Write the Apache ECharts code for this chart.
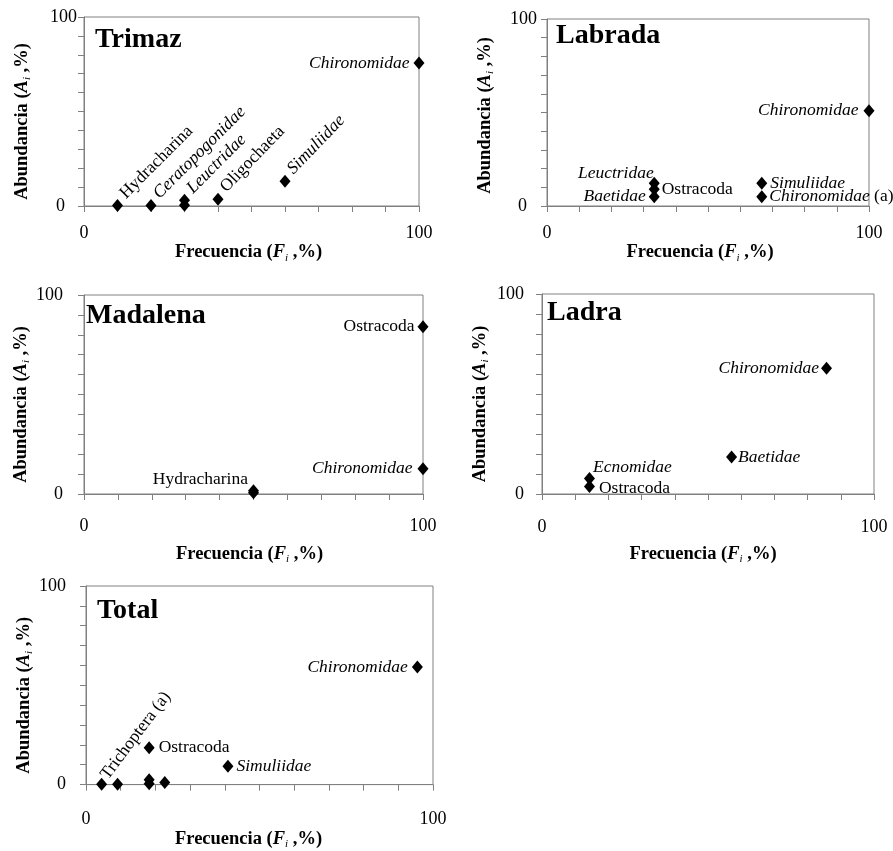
<!DOCTYPE html>
<html><head><meta charset="utf-8">
<script src="https://cdn.jsdelivr.net/npm/echarts/dist/echarts.min.js"></script>
<style>html,body{margin:0;padding:0;background:#fff}#c{width:893px;height:851px}</style>
</head><body><div id="c"></div>
<script>
// ---------- data ----------
const panelNames = ['Trimaz', 'Labrada', 'Madalena', 'Ladra', 'Total'];
const xTickShown = [0, 100];
const yTickShown = [0, 100];

const trimazF = [10, 20, 30, 30, 40, 60, 100];
const trimazA = [0.3, 0.3, 0.4, 3.0, 3.6, 13.1, 75.6];
const trimazTaxa = ['Hydracharina', 'Ceratopogonidae', '', 'Leuctridae', 'Oligochaeta', 'Simuliidae', 'Chironomidae'];
const trimazItalic = [false, true, false, true, false, true, true];

const labradaF = [33.3, 33.3, 33.3, 66.7, 66.7, 100];
const labradaA = [12.1, 8.9, 5.0, 12.1, 5.0, 50.9];
const labradaTaxa = ['Leuctridae', 'Ostracoda', 'Baetidae', 'Simuliidae', 'Chironomidae (a)', 'Chironomidae'];
const labradaItalic = [true, false, true, true, true, true];

const madalenaF = [100, 100, 50, 50];
const madalenaA = [84.1, 12.7, 1.6, 0.6];
const madalenaTaxa = ['Ostracoda', 'Chironomidae', 'Hydracharina', ''];
const madalenaItalic = [false, true, false, false];

const ladraF = [85.7, 57.1, 14.3, 14.3];
const ladraA = [62.9, 18.5, 7.8, 3.8];
const ladraTaxa = ['Chironomidae', 'Baetidae', 'Ecnomidae', 'Ostracoda'];
const ladraItalic = [true, true, true, false];

const totalF = [95.5, 18.2, 40.9, 4.5, 9.1, 18.2, 18.2, 22.7];
const totalA = [59.2, 18.5, 9.3, 0.2, 0.2, 0.4, 2.4, 1.0];
const totalTaxa = ['Chironomidae', 'Ostracoda', 'Simuliidae', 'Trichoptera (a)', '', '', '', ''];
const totalItalic = [true, false, true, false, false, false, false, false];

// ---------- styles / layout ----------
const SERIF = "'Liberation Serif','Times New Roman',serif";
const GRAY = '#808080';
const ROT = {p: 'inside', r: 45, o: [10.5, -3], al: 'left', va: 'middle'};
const ROT2 = {p: 'inside', r: 46, o: [10.5, -3], al: 'left', va: 'middle'};
const L = (d, o) => ({p: 'left', d: d, o: o || [0, 0]});
const R = (d, o) => ({p: 'right', d: d, o: o || [0, 0]});

const panels = [
  {F: trimazF, A: trimazA, T: trimazTaxa, I: trimazItalic,
   lab: [ROT, ROT, null, ROT, ROT2, ROT2, L(4)],
   grid: {left: 84, top: 17, width: 335, height: 189}, title: [95, 26],
   xm: 18, xg: 33, xs: -3, ym: 7, yz: 12, yd: 10},
  {F: labradaF, A: labradaA, T: labradaTaxa, I: labradaItalic,
   lab: [L(3, [8, -10]), R(2), L(3), R(3), R(2), L(5)],
   grid: {left: 547, top: 19, width: 322, height: 187}, title: [556, 22],
   xm: 18, xg: 33, xs: -8, ym: 10, yz: 10, yd: 3},
  {F: madalenaF, A: madalenaA, T: madalenaTaxa, I: madalenaItalic,
   lab: [L(3), L(5), L(3, [3, -11]), null],
   grid: {left: 84, top: 295, width: 339, height: 199}, title: [86, 302],
   xm: 23, xg: 49, xs: -4, ym: 21, yz: 0, yd: 10},
  {F: ladraF, A: ladraA, T: ladraTaxa, I: ladraItalic,
   lab: [L(2), R(1), R(2, [-4, -11]), R(4, [0, 2])],
   grid: {left: 542, top: 294, width: 332, height: 200}, title: [547, 299],
   xm: 24, xg: 49, xs: -5, ym: 18, yz: 0, yd: 10},
  {F: totalF, A: totalA, T: totalTaxa, I: totalItalic,
   lab: [L(4), R(4), R(3), {p: 'inside', r: 53, o: [7, -2], al: 'left', va: 'middle'}, null, null, null, null],
   grid: {left: 86, top: 586, width: 347, height: 207}, title: [97, 597],
   xm: 26, xg: 35, xs: -11, ym: 20, yz: 0, yd: 10}
];

function fmt(name, italic) {
  if (!name) return '';
  if (italic) {
    const m = name.match(/^(.*?)( \(a\))$/);
    if (m) return '{i|' + m[1] + '}{n|' + m[2] + '}';
    return '{i|' + name + '}';
  }
  return '{n|' + name + '}';
}
const labelRich = {
  i: {fontFamily: SERIF, fontStyle: 'italic', fontSize: 17.5, color: '#000'},
  n: {fontFamily: SERIF, fontSize: 17.5, color: '#000'}
};
const nameRich = {
  b: {fontFamily: SERIF, fontWeight: 'bold', fontSize: 18.5, color: '#000', lineHeight: 22},
  bi: {fontFamily: SERIF, fontWeight: 'bold', fontStyle: 'italic', fontSize: 18.5, color: '#000', lineHeight: 22},
  sub: {fontFamily: SERIF, fontStyle: 'italic', fontSize: 11, color: '#000', lineHeight: 22, verticalAlign: 'bottom'}
};

const option = {
  backgroundColor: '#fff',
  animation: false,
  title: [], grid: [], xAxis: [], yAxis: [], series: []
};

panels.forEach((pn, k) => {
  option.title.push({
    text: panelNames[k], left: pn.title[0], top: pn.title[1], padding: 0,
    textStyle: {fontFamily: SERIF, fontSize: 28, fontWeight: 'bold', color: '#000'}
  });
  option.grid.push(Object.assign({show: true, borderColor: GRAY, borderWidth: 1, containLabel: false}, pn.grid));
  option.xAxis.push({
    gridIndex: k, type: 'value', min: 0, max: 100, interval: 10,
    axisLine: {show: true, lineStyle: {color: GRAY, width: 1}},
    axisTick: {show: true, length: 6, lineStyle: {color: GRAY}},
    splitLine: {show: false},
    axisLabel: {
      margin: pn.xm, fontFamily: SERIF, fontSize: 18, color: '#000',
      formatter: v => (xTickShown.indexOf(v) >= 0 ? String(v) : '')
    },
    name: '{b|Frecuencia (}{bi|F}{sub|i}{b| ,%)}',
    nameLocation: 'middle', nameGap: pn.xg,
    nameTextStyle: {rich: nameRich, padding: [0, -2 * pn.xs, 0, 0]}
  });
  option.yAxis.push({
    gridIndex: k, type: 'value', min: 0, max: 100, interval: 10,
    axisLine: {show: true, lineStyle: {color: GRAY, width: 1}},
    axisTick: {show: true, length: 6, lineStyle: {color: GRAY}},
    splitLine: {show: false},
    axisLabel: {
      margin: pn.ym, align: 'right',
      formatter: v => (yTickShown.indexOf(v) < 0 ? '' : (v === 0 ? '{z|0}' : '{t|' + v + '}')),
      rich: {
        t: {fontFamily: SERIF, fontSize: 18, color: '#000'},
        z: {fontFamily: SERIF, fontSize: 18, color: '#000', padding: [0, pn.yz, 0, 0]}
      }
    },
    name: '{b|Abundancia (}{bi|A}{sub|i}{b| ,%)}',
    nameLocation: 'middle', nameRotate: 90, nameGap: 51,
    nameTextStyle: {rich: nameRich, padding: [0, 2 * pn.yd, 0, 0]}
  });
  const data = pn.F.map((f, j) => {
    const s = pn.lab[j];
    const item = {value: [f, pn.A[j]]};
    if (s && pn.T[j]) {
      item.label = {
        show: true, position: s.p, distance: s.d || 0, offset: s.o || [0, 0],
        rotate: s.r || 0, formatter: fmt(pn.T[j], pn.I[j]), rich: labelRich
      };
      if (s.al) item.label.align = s.al;
      if (s.va) item.label.verticalAlign = s.va;
    } else {
      item.label = {show: false};
    }
    return item;
  });
  option.series.push({
    type: 'scatter', xAxisIndex: k, yAxisIndex: k,
    symbol: 'diamond', symbolSize: [11, 13],
    itemStyle: {color: '#000', opacity: 1},
    emphasis: {disabled: true},
    label: {rich: labelRich},
    data: data
  });
});

const chart = echarts.init(document.getElementById('c'), null, {renderer: 'canvas'});
chart.setOption(option);
</script>
</body></html>
